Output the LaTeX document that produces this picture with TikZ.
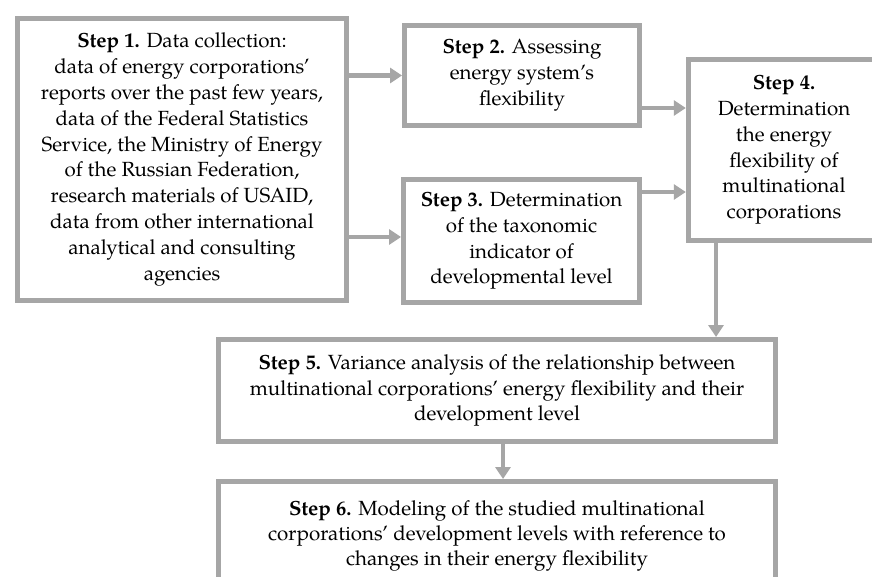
\documentclass[tikz,border=0pt]{standalone}
\usepackage{fontspec}
\setmainfont{TeX Gyre Pagella}
\usetikzlibrary{arrows.meta}
\definecolor{boxgray}{RGB}{166,166,166}
\begin{document}
\begin{tikzpicture}[x=1pt,y=-1pt,
  stepbox/.style={draw=boxgray, line width=5pt, align=center, inner sep=0pt,
    font=\fontsize{20.5}{25.8}\selectfont},
  arr/.style={draw=boxgray, line width=4.5pt, -{Triangle[width=15pt,length=12pt]}}]
\useasboundingbox (0,0) rectangle (872,577);
\fill[white] (0,0) rectangle (872,577);
\clip (0,0) rectangle (872,577);
\node[stepbox, minimum width=329pt, minimum height=282pt] (s1) at (182,159.5)
  {\textbf{Step 1.} Data collection:\\ data of energy corporations'\\ reports over the past few years,\\ data of the Federal Statistics\\ Service, the Ministry of Energy\\ of the Russian Federation,\\ research materials of USAID,\\ data from other international\\ analytical and consulting\\ agencies};
\node[stepbox, minimum width=235pt, minimum height=100pt] (s2) at (522,75.5)
  {\textbf{Step 2.} Assessing\\ energy system's\\ flexibility};
\node[stepbox, minimum width=236pt, minimum height=123pt] (s3) at (521.5,241)
  {\textbf{Step 3.} Determination\\ of the taxonomic\\ indicator of\\ developmental level};
\node[stepbox, minimum width=191.5pt, minimum height=181pt] (s4) at (784,150)
  {\textbf{Step 4.}\\ Determination\\ the energy\\ flexibility of\\ multinational\\ corporations};
\node[stepbox, minimum width=557pt, minimum height=102pt] (s5) at (497,390.5)
  {\textbf{Step 5.} Variance analysis of the relationship between\\ multinational corporations' energy flexibility and their\\ development level};
\node[stepbox, minimum width=557pt, minimum height=109pt, font=\fontsize{20.5}{24.8}\selectfont] (s6) at (497,536)
  {\textbf{Step 6.} Modeling of the studied multinational\\ corporations' development levels with reference to\\ changes in their energy flexibility};
\draw[arr] (s1.east |- s2.west) -- (s2.west);
\draw[arr] ([yshift=4pt]s3.west -| s1.east) -- ([yshift=4pt]s3.west);
\draw[arr] ([yshift=-32.5pt]s2.east) -- ([yshift=-32.5pt]s2.east -| s4.west);
\draw[arr] ([yshift=49pt]s3.east) -- ([yshift=49pt]s3.east -| s4.west);
\draw[arr] ([xshift=-68pt]s4.south) -- ([xshift=-68pt]s4.south |- s5.north);
\draw[arr] ([xshift=6pt]s5.south) -- ([xshift=6pt]s5.south |- s6.north);
\end{tikzpicture}
\end{document}
